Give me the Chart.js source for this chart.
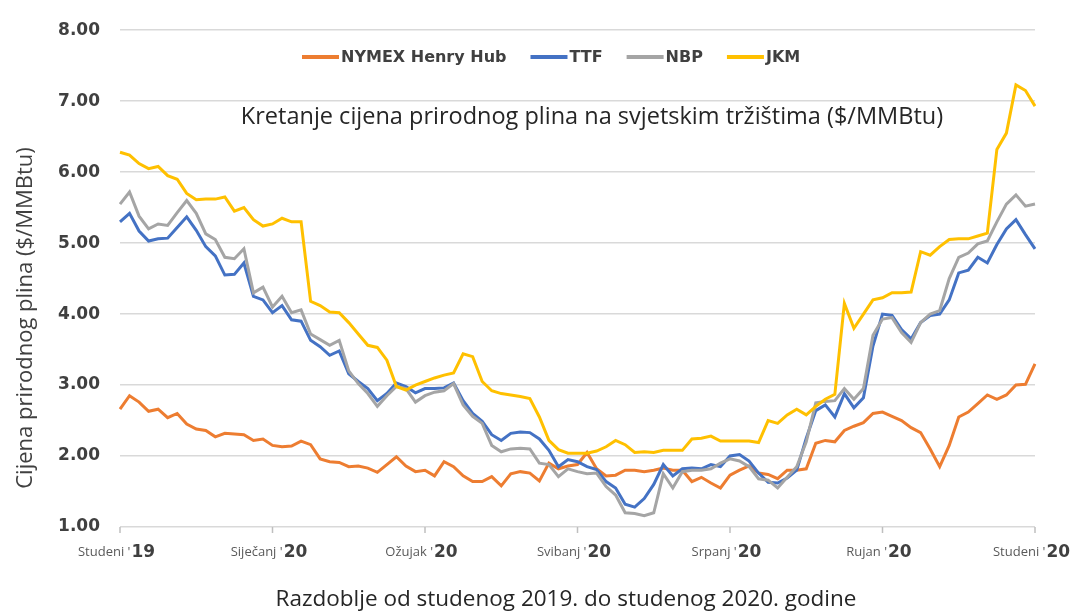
<!DOCTYPE html>
<html>
<head>
<meta charset="utf-8">
<script src="https://cdn.jsdelivr.net/npm/chart.js@4.4.1/dist/chart.umd.min.js"></script>
<style>
  html, body { margin: 0; padding: 0; background: #fff; }
  #wrap { width: 1073px; height: 615px; }
</style>
</head>
<body>
<div id="wrap"><canvas id="myChart" width="1073" height="615"></canvas></div>
<script>
const henryHub = [2.66, 2.85, 2.76, 2.63, 2.66, 2.54, 2.60, 2.45, 2.38, 2.36, 2.27, 2.32, 2.31, 2.30, 2.22, 2.24,
  2.15, 2.13, 2.14, 2.21, 2.16, 1.96, 1.92, 1.91, 1.85, 1.86, 1.83, 1.77, 1.88, 1.99, 1.86, 1.78,
  1.80, 1.72, 1.92, 1.85, 1.72, 1.64, 1.64, 1.71, 1.58, 1.75, 1.78, 1.76, 1.65, 1.90, 1.82, 1.86,
  1.88, 2.05, 1.82, 1.72, 1.73, 1.80, 1.80, 1.78, 1.80, 1.83, 1.80, 1.80, 1.64, 1.70, 1.62, 1.55,
  1.73, 1.80, 1.86, 1.76, 1.74, 1.68, 1.80, 1.80, 1.82, 2.18, 2.22, 2.20, 2.36, 2.42, 2.47, 2.60,
  2.62, 2.56, 2.50, 2.40, 2.33, 2.10, 1.85, 2.15, 2.55, 2.62, 2.74, 2.86, 2.80, 2.86, 3.00, 3.01, 3.30];

const ttf = [5.30, 5.42, 5.17, 5.03, 5.06, 5.07, 5.22, 5.37, 5.18, 4.95, 4.82, 4.55, 4.56, 4.72, 4.25, 4.20,
  4.02, 4.12, 3.92, 3.90, 3.63, 3.54, 3.42, 3.48, 3.16, 3.05, 2.95, 2.78, 2.88, 3.03, 2.98, 2.89,
  2.95, 2.95, 2.96, 3.03, 2.78, 2.60, 2.49, 2.30, 2.22, 2.32, 2.34, 2.33, 2.24, 2.08, 1.85, 1.95,
  1.92, 1.85, 1.81, 1.64, 1.55, 1.32, 1.28, 1.40, 1.60, 1.88, 1.72, 1.82, 1.83, 1.82, 1.88, 1.85,
  2.00, 2.02, 1.93, 1.76, 1.63, 1.62, 1.69, 1.80, 2.25, 2.64, 2.72, 2.55, 2.88, 2.68, 2.82, 3.55,
  4.00, 3.98, 3.78, 3.65, 3.88, 3.98, 4.00, 4.20, 4.58, 4.62, 4.80, 4.72, 4.98, 5.20, 5.33, 5.12, 4.92];

const nbp = [5.55, 5.72, 5.38, 5.20, 5.27, 5.25, 5.43, 5.60, 5.42, 5.13, 5.05, 4.80, 4.78, 4.92, 4.30, 4.38,
  4.10, 4.25, 4.02, 4.06, 3.72, 3.64, 3.56, 3.63, 3.20, 3.02, 2.88, 2.70, 2.85, 2.98, 2.95, 2.76,
  2.85, 2.90, 2.92, 3.02, 2.72, 2.56, 2.46, 2.15, 2.06, 2.10, 2.11, 2.10, 1.90, 1.88, 1.71, 1.82,
  1.78, 1.75, 1.76, 1.57, 1.45, 1.20, 1.19, 1.16, 1.20, 1.75, 1.55, 1.78, 1.80, 1.80, 1.82, 1.90,
  1.96, 1.93, 1.85, 1.68, 1.66, 1.55, 1.70, 1.85, 2.20, 2.75, 2.77, 2.78, 2.95, 2.80, 2.95, 3.70,
  3.93, 3.95, 3.74, 3.60, 3.88, 4.00, 4.05, 4.50, 4.80, 4.86, 4.99, 5.03, 5.30, 5.55, 5.68, 5.52, 5.55];

const jkm = [6.28, 6.24, 6.12, 6.05, 6.08, 5.95, 5.90, 5.70, 5.61, 5.62, 5.62, 5.65, 5.45, 5.50, 5.33, 5.24,
  5.27, 5.35, 5.30, 5.30, 4.18, 4.12, 4.03, 4.02, 3.88, 3.72, 3.56, 3.53, 3.35, 2.98, 2.93, 3.00,
  3.05, 3.10, 3.14, 3.17, 3.44, 3.40, 3.05, 2.92, 2.88, 2.86, 2.84, 2.81, 2.55, 2.22, 2.09, 2.04,
  2.04, 2.04, 2.07, 2.13, 2.22, 2.16, 2.05, 2.06, 2.05, 2.08, 2.08, 2.08, 2.24, 2.25, 2.28, 2.21,
  2.21, 2.21, 2.21, 2.19, 2.50, 2.46, 2.58, 2.66, 2.58, 2.70, 2.80, 2.87, 4.15, 3.80, 4.00, 4.20,
  4.23, 4.30, 4.30, 4.31, 4.88, 4.83, 4.95, 5.05, 5.06, 5.06, 5.10, 5.14, 6.32, 6.55, 7.23, 7.15, 6.93];

const seriesNames = ["NYMEX Henry Hub", "TTF", "NBP", "JKM"];
const seriesColors = ["#ED7D31", "#4472C4", "#A5A5A5", "#FFC000"];

const tickMonths = ["Studeni", "Siječanj", "Ožujak", "Svibanj", "Srpanj", "Rujan", "Studeni"];
const tickYears = ["19", "20", "20", "20", "20", "20", "20"];
const tickIndex = [0, 16, 32, 48, 64, 80, 96];

const chartTitle = "Kretanje cijena prirodnog plina na svjetskim tržištima ($/MMBtu)";
const yTitle = "Cijena prirodnog plina ($/MMBtu)";
const xTitle = "Razdoblje od studenog 2019. do studenog 2020. godine";

const labels = henryHub.map((v, i) => i);
const allSeries = [henryHub, ttf, nbp, jkm];

// titles, legend inside the plot and the two-font month labels
const extraText = {
  id: "extraText",
  afterDraw(chart) {
    const ctx = chart.ctx;
    const xs = chart.scales.x;
    const area = chart.chartArea;
    ctx.save();

    ctx.fillStyle = "#262626";
    ctx.font = "23.5px 'Open Sans'";
    ctx.textAlign = "center";
    ctx.textBaseline = "middle";
    ctx.fillText(chartTitle, 592, 117);

    ctx.font = "22.5px 'Open Sans'";
    ctx.fillText(xTitle, 566, 600);

    ctx.save();
    ctx.translate(26, 318);
    ctx.rotate(-Math.PI / 2);
    ctx.fillStyle = "#404040";
    ctx.font = "22px 'Open Sans'";
    ctx.fillText(yTitle, 0, 0);
    ctx.restore();

    // legend
    let lx = 302;
    const ly = 57;
    ctx.font = "bold 16px 'DejaVu Sans'";
    ctx.textAlign = "left";
    ctx.textBaseline = "middle";
    seriesNames.forEach((name, i) => {
      ctx.strokeStyle = seriesColors[i];
      ctx.lineWidth = 4;
      ctx.beginPath();
      ctx.moveTo(lx, ly);
      ctx.lineTo(lx + 37, ly);
      ctx.stroke();
      ctx.fillStyle = "#404040";
      ctx.fillText(name, lx + 39, ly + 1);
      lx += 39 + ctx.measureText(name).width + 24;
    });

    ctx.strokeStyle = "#bfbfbf";
    ctx.lineWidth = 1.5;
    tickIndex.forEach((idx, k) => {
      const px = xs.getPixelForValue(idx);
      ctx.beginPath();
      ctx.moveTo(px, area.bottom);
      ctx.lineTo(px, area.bottom + 6);
      ctx.stroke();

      const fMonth = "13px 'Open Sans'";
      const fYear = "bold 17px 'DejaVu Sans'";
      ctx.font = fMonth;
      const m = tickMonths[k] + " '";
      const wm = ctx.measureText(m).width;
      ctx.font = fYear;
      const wy = ctx.measureText(tickYears[k]).width;
      const x0 = px - 4 - (wm + wy) / 2;
      ctx.textAlign = "left";
      ctx.textBaseline = "alphabetic";
      ctx.font = fMonth;
      ctx.fillStyle = "#595959";
      ctx.fillText(m, x0, 556);
      ctx.font = fYear;
      ctx.fillStyle = "#404040";
      ctx.fillText(tickYears[k], x0 + wm + 1, 557);
    });
    ctx.restore();
  }
};

new Chart("myChart", {
  type: "line",
  data: {
    labels: labels,
    datasets: allSeries.map((s, i) => ({
      label: seriesNames[i],
      data: s,
      borderColor: seriesColors[i],
      backgroundColor: seriesColors[i],
      borderWidth: 3,
      pointRadius: 0,
      tension: 0,
      order: 4 - i
    }))
  },
  options: {
    responsive: false,
    animation: false,
    layout: { padding: { top: 27, right: 38, bottom: 0, left: 0 } },
    plugins: {
      tooltip: { enabled: false },
      legend: { display: false }
    },
    scales: {
      x: {
        type: "category",
        offset: false,
        grid: { display: false },
        border: { display: false },
        ticks: { display: false },
        afterFit(scale) { scale.height = 615 - 527; }
      },
      y: {
        min: 1,
        max: 8,
        grid: { color: "#d9d9d9", lineWidth: 1.5, drawTicks: false },
        border: { display: false },
        ticks: {
          stepSize: 1,
          padding: 20,
          color: "#404040",
          font: { family: "'DejaVu Sans'", size: 17, weight: "bold" },
          callback: v => v.toFixed(2)
        },
        afterFit(scale) { scale.width = 120; }
      }
    }
  },
  plugins: [extraText]
});
</script>
</body>
</html>
